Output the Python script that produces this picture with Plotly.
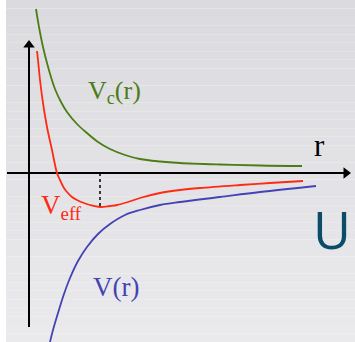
import plotly.graph_objects as go

# Radial coordinate r and potential values (origin where the two axes cross)
r_centrifugal = [7, 10, 14, 18, 22, 26, 32, 38, 48, 58, 69, 81, 96, 111, 131, 151, 191, 231, 273]
v_centrifugal = [164, 146, 126, 110, 96, 84, 71, 61, 49, 40, 31, 24, 18, 14, 11.5, 10, 8.5, 7.5, 7]

r_effective = [8, 9, 11, 14, 18, 23, 28, 31, 35, 38, 43, 48, 55, 61, 71, 81, 88, 99, 111, 131, 151, 171, 211, 241, 274]
v_effective = [122, 113, 93, 70, 46, 23, 0, -7, -15, -19, -24, -27, -30, -32, -34, -33, -32, -29, -25, -20, -17, -15, -12, -10, -8]

r_potential = [21, 24, 29, 35, 41, 49, 58, 69, 81, 96, 111, 131, 151, 191, 231, 287]
v_potential = [-169, -157, -140, -121, -105, -88, -74, -61, -51, -42, -37, -32, -29, -24, -19, -13]

# Position of the effective-potential minimum
r_min = 71
v_min = -34

# Axis extents
r_axis = [-22, 316]
v_axis = [-154, 127]

X_RANGE = [-29, 326]
Y_RANGE = [-169, 173]

GREEN = "#4b7d14"
RED = "#ff2a12"
BLUE = "#4343b4"
TEAL = "#0b4d69"
SERIF = "Liberation Serif, Times New Roman, serif"

fig = go.Figure()

# Coordinate axes with arrowheads
fig.add_trace(go.Scatter(x=r_axis, y=[0, 0], mode="lines",
                         line=dict(color="black", width=2), hoverinfo="skip"))
fig.add_trace(go.Scatter(x=[0, 0], y=v_axis, mode="lines",
                         line=dict(color="black", width=2), hoverinfo="skip"))
fig.add_trace(go.Scatter(x=[r_axis[1] + 1], y=[0], mode="markers",
                         marker=dict(symbol="triangle-right", size=10, color="black"),
                         hoverinfo="skip"))
fig.add_trace(go.Scatter(x=[0], y=[v_axis[1] + 1], mode="markers",
                         marker=dict(symbol="triangle-up", size=10, color="black"),
                         hoverinfo="skip"))

# Potential curves
fig.add_trace(go.Scatter(x=r_centrifugal, y=v_centrifugal, mode="lines",
                         line=dict(color=GREEN, width=1.8, shape="spline", smoothing=1),
                         hoverinfo="skip"))
fig.add_trace(go.Scatter(x=r_effective, y=v_effective, mode="lines",
                         line=dict(color=RED, width=1.8, shape="spline", smoothing=1),
                         hoverinfo="skip"))
fig.add_trace(go.Scatter(x=r_potential, y=v_potential, mode="lines",
                         line=dict(color=BLUE, width=1.8, shape="spline", smoothing=1),
                         hoverinfo="skip"))

# Soft vertical grey gradient behind the drawing
shapes = []
n_bands = 40
top = (219, 219, 223)
bottom = (234, 234, 237)
for i in range(n_bands):
    t = i / (n_bands - 1)
    c = tuple(round(top[k] + (bottom[k] - top[k]) * t) for k in range(3))
    shapes.append(dict(type="rect", xref="paper", yref="paper",
                       x0=6 / 355, x1=1, y0=1 - (i + 1) / n_bands, y1=1 - i / n_bands,
                       fillcolor="rgb(%d,%d,%d)" % c, line=dict(width=0), layer="below"))

# Dotted marker down to the minimum
shapes.append(dict(type="line", xref="x", yref="y", x0=r_min, x1=r_min, y0=0, y1=v_min,
                   line=dict(color="black", width=1.5, dash="dot")))

annotations = [
    dict(x=57, y=81, xref="x", yref="y", text="V<sub>c</sub>(r)", showarrow=False,
         xanchor="left", yanchor="middle", font=dict(family=SERIF, size=26, color=GREEN)),
    dict(x=10, y=-34, xref="x", yref="y", text="V<sub>eff</sub>", showarrow=False,
         xanchor="left", yanchor="middle", font=dict(family=SERIF, size=27, color=RED)),
    dict(x=62, y=-114, xref="x", yref="y", text="V(r)", showarrow=False,
         xanchor="left", yanchor="middle", font=dict(family=SERIF, size=27, color=BLUE)),
    dict(x=283, y=28, xref="x", yref="y", text="r", showarrow=False,
         xanchor="left", yanchor="middle", font=dict(family=SERIF, size=31, color="black")),
    dict(x=282, y=-55, xref="x", yref="y", text="U", showarrow=False,
         xanchor="left", yanchor="middle", font=dict(family="Open Sans, sans-serif", size=52, color=TEAL)),
]

fig.update_layout(
    width=355, height=342,
    margin=dict(l=0, r=0, t=0, b=0),
    paper_bgcolor="white", plot_bgcolor="rgba(0,0,0,0)",
    showlegend=False,
    xaxis=dict(range=X_RANGE, visible=False, fixedrange=True),
    yaxis=dict(range=Y_RANGE, visible=False, fixedrange=True),
    shapes=shapes, annotations=annotations,
)

fig.write_html("out.html", config={"displayModeBar": False})
